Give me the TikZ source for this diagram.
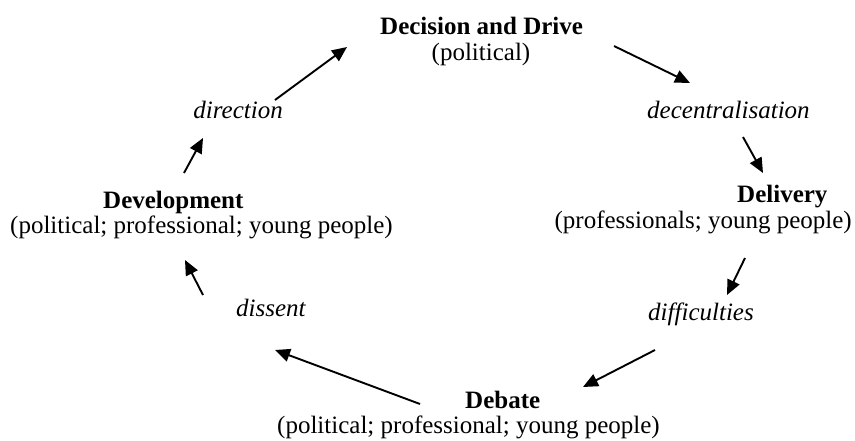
\documentclass[tikz,border=0pt]{standalone}
\usepackage{fontspec}
\setmainfont{Liberation Serif}
\usetikzlibrary{arrows.meta}
\begin{document}
\begin{tikzpicture}[x=1pt,y=-1pt,
  lbl/.style={inner sep=0pt,font=\fontsize{25}{30}\selectfont},
  head/.style={lbl,font=\fontsize{25}{30}\selectfont\bfseries},
  link/.style={lbl,font=\fontsize{25}{30}\selectfont\itshape},
  flow/.style={line width=1.9pt,-{Triangle[length=15pt,width=13pt]}}]
\useasboundingbox (0,0) rectangle (855,440);
% Decision and Drive
\node[head,anchor=base west] (dd) at (380,34) {Decision and Drive};
\node[lbl,anchor=base] (ddsub) at (481,60) {(political)};
% decentralisation
\node[link,anchor=base west] (dec) at (647,118) {decentralisation};
% Delivery
\node[head,anchor=base west] (del) at (737,202) {Delivery};
\node[lbl,anchor=base east] (delsub) at (852,228) {(professionals; young people)};
% difficulties
\node[link,anchor=base west] (dif) at (648,320) {difficulties};
% Debate
\node[head,anchor=base west] (deb) at (465,408) {Debate};
\node[lbl,anchor=base west] (debsub) at (277,433) {(political; professional; young people)};
% dissent
\node[link,anchor=base west] (dis) at (236,316) {dissent};
% Development
\node[head,anchor=base west] (dev) at (103,208) {Development};
\node[lbl,anchor=base west] (devsub) at (10,233) {(political; professional; young people)};
% direction
\node[link,anchor=base east] (dir) at (283,118) {direction};
% arrow end points
\coordinate (a1s) at (275,100); \coordinate (a1e) at (347,47);
\coordinate (a2s) at (614,46);  \coordinate (a2e) at (690,83);
\coordinate (a3s) at (743,137); \coordinate (a3e) at (763,173);
\coordinate (a4s) at (745,258); \coordinate (a4e) at (727,295);
\coordinate (a5s) at (655,350); \coordinate (a5e) at (583,387);
\coordinate (a6s) at (420,404); \coordinate (a6e) at (275,350);
\coordinate (a7s) at (203,295); \coordinate (a7e) at (185,260);
\coordinate (a8s) at (184,173); \coordinate (a8e) at (203,138);
\draw[flow] (a1s) -- (a1e);
\draw[flow] (a2s) -- (a2e);
\draw[flow] (a3s) -- (a3e);
\draw[flow] (a4s) -- (a4e);
\draw[flow] (a5s) -- (a5e);
\draw[flow] (a6s) -- (a6e);
\draw[flow] (a7s) -- (a7e);
\draw[flow] (a8s) -- (a8e);
\end{tikzpicture}
\end{document}
